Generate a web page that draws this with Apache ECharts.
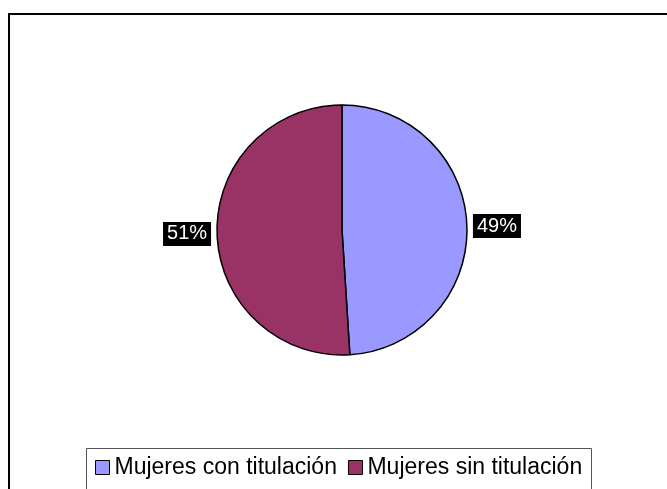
<!DOCTYPE html>
<html>
<head>
<meta charset="utf-8">
<script src="https://cdn.jsdelivr.net/npm/echarts@6/dist/echarts.min.js"></script>
<style>
  html, body { margin: 0; padding: 0; background: #fff; }
  #main { width: 667px; height: 489px; }
</style>
</head>
<body>
<div id="main"></div>
<script>
// chart data
var categories = ['Mujeres con titulación', 'Mujeres sin titulación'];
var values = [49, 51];
var colors = ['#9999FF', '#993366'];

var myChart = echarts.init(document.getElementById('main'));

var pieData = categories.map(function (name, i) {
  return { name: name, value: values[i], itemStyle: { color: colors[i] } };
});

myChart.setOption({
  animation: false,
  textStyle: { fontFamily: 'Liberation Sans, Arial, sans-serif' },
  graphic: [{
    type: 'rect',
    shape: { x: 9, y: 14, width: 700, height: 520 },
    style: { fill: 'none', stroke: '#000', lineWidth: 2 },
    silent: true
  }, {
    type: 'rect',
    shape: { x: 86.5, y: 448.5, width: 505, height: 60 },
    style: { fill: '#fff', stroke: '#555', lineWidth: 1 },
    silent: true,
    z: 0
  }],
  legend: {
    bottom: 10,
    left: 95,
    padding: 0,
    itemWidth: 14,
    itemHeight: 14,
    itemGap: 11,
    icon: 'rect',
    z: 10,
    textStyle: { fontSize: 23, color: '#000', fontFamily: 'Liberation Sans, Arial, sans-serif' },
    data: categories.map(function (c) {
      return { name: c, itemStyle: { borderColor: '#000', borderWidth: 1 } };
    })
  },
  series: [{
    type: 'pie',
    center: [342, 230],
    radius: 125,
    startAngle: 90,
    clockwise: true,
    data: pieData,
    itemStyle: { borderColor: '#000', borderWidth: 1.5 },
    label: {
      show: true,
      position: 'outside',
      formatter: function (p) { return Math.round(p.percent) + '%'; },
      color: '#fff',
      backgroundColor: '#000',
      fontSize: 20,
      padding: [3, 4, 1, 4],
      fontFamily: 'Liberation Sans, Arial, sans-serif'
    },
    labelLine: { show: false, length: 1, length2: 0 },
    emphasis: { disabled: true }
  }]
});
</script>
</body>
</html>
